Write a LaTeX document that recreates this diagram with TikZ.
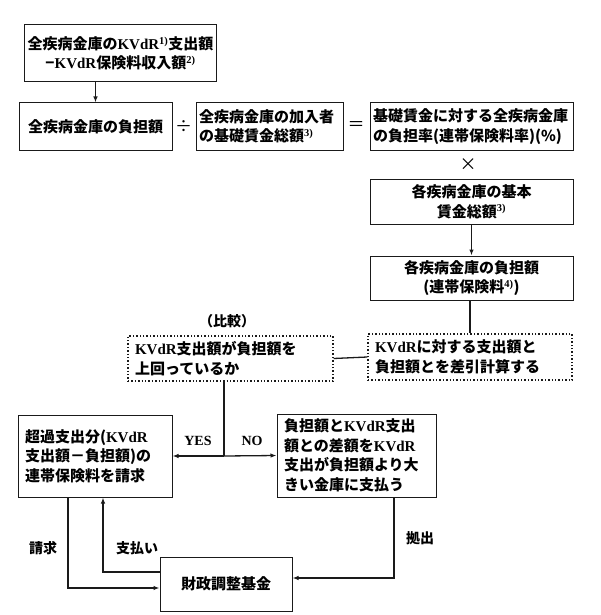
\documentclass[tikz,border=0pt]{standalone}
\usepackage{fontspec}
\usepackage{xcolor}
\usepackage{tikz}
\usetikzlibrary{arrows.meta,positioning,calc}
\setmainfont{Noto Sans CJK JP}
\newfontfamily\latfont{Liberation Serif}
\newcommand\kvdr{{\latfont KVdR}}
\newcommand\fnote[1]{\textsuperscript{\latfont #1)}}
\definecolor{fkink}{HTML}{1A1A1A}
\tikzset{
  fkbox/.style={draw=fkink,line width=1pt,inner sep=3pt,font=\fontsize{15}{19.5}\selectfont\bfseries,align=center},
  fkleft/.style={fkbox,align=left,inner xsep=7pt},
  fkdot/.style={fkleft,dash pattern=on 1.4pt off 2pt,line width=1.3pt},
  fkline/.style={draw=fkink,line width=1.3pt},
  fkarrow/.style={fkline,-{Latex[length=6pt,width=4.5pt]}},
  fklabel/.style={font=\fontsize{14}{16}\selectfont\bfseries,inner sep=1pt},
  fkop/.style={font=\fontsize{17}{17}\selectfont,inner sep=0pt}
}
\begin{document}
\begin{tikzpicture}[x=1pt,y=-1pt]
\useasboundingbox (0,0) rectangle (600,615);
\node[fkbox,minimum width=189pt,minimum height=57pt] (total) at (120.5,53.5) {全疾病金庫の\kvdr\fnote{1}支出額\\−\kvdr 保険料収入額\fnote{2}};
\node[fkbox,minimum width=153pt,minimum height=47pt] (share) at (95.5,126.5) {全疾病金庫の負担額};
\node[fkop] (div) at (183.5,126.5) {÷};
\node[fkleft,inner xsep=3pt,text width=141pt,minimum height=47pt] (wagesum) at (269.5,126.5) {全疾病金庫の加入者\\の基礎賃金総額\fnote{3}};
\node[fkop] (eq) at (356,126.5) {＝};
\node[fkleft,inner xsep=3pt,text width=197pt,minimum height=47pt] (rate) at (471.5,126.5) {基礎賃金に対する全疾病金庫\\の負担率(連帯保険料率)(\%)};
\node[fkop] (times) at (468,165) {×};
\node[fkbox,minimum width=203pt,minimum height=45pt] (basewage) at (471.5,201.5) {各疾病金庫の基本\\賃金総額\fnote{3}};
\node[fkbox,minimum width=203pt,minimum height=44pt] (eachshare) at (471.5,278) {各疾病金庫の負担額\\(連帯保険料\fnote{4})};
\node[fklabel] (cmp) at (227,321) {（比較）};
\node[fkdot,text width=191pt,minimum height=45pt] (exceed) at (230.5,358.5) {\kvdr 支出額が負担額を\\上回っているか};
\node[fkdot,text width=190pt,minimum height=46pt] (diff) at (470,357) {\kvdr に対する支出額と\\負担額とを差引計算する};
\node[fkleft,text width=140pt,minimum height=82pt] (claim) at (95,456) {超過支出分(\kvdr\\支出額－負担額)の\\連帯保険料を請求};
\node[fkleft,text width=145pt,minimum height=83pt] (pay) at (356.5,455.5) {負担額と\kvdr 支出\\額との差額を\kvdr\\支出が負担額より大\\きい金庫に支払う};
\node[fkbox,minimum width=132pt,minimum height=54pt] (fund) at (226,584) {財政調整基金};
\coordinate (split) at (224,456);
\draw[fkarrow] (total.south -| share.north) -- (share.north);
\draw[fkarrow] (basewage.south) -- (eachshare.north);
\draw[fkline] (eachshare.south -| diff.north) -- (diff.north);
\draw[fkline] (exceed.east) -- (diff.west);
\draw[fkline] (exceed.south -| split) -- (split);
\draw[fkarrow] (split) -- (claim.east);
\draw[fkarrow] (split) -- (pay.west);
\node[fklabel,font=\fontsize{14}{16}\latfont\bfseries] (yes) at (198,441) {YES};
\node[fklabel,font=\fontsize{14}{16}\latfont\bfseries] (no) at (252,441) {NO};
\draw[fkarrow] ([xshift=-27pt]claim.south) |- ([yshift=-4pt]fund.west);
\draw[fkarrow] ([yshift=12pt]fund.west) -| ([xshift=8pt]claim.south);
\draw[fkarrow] ([xshift=37.5pt]pay.south) |- ([yshift=6pt]fund.east);
\node[fklabel] (claimlbl) at (43,548) {請求};
\node[fklabel] (paylbl) at (137,548) {支払い};
\node[fklabel] (contrib) at (420,538) {拠出};
\end{tikzpicture}
\end{document}
